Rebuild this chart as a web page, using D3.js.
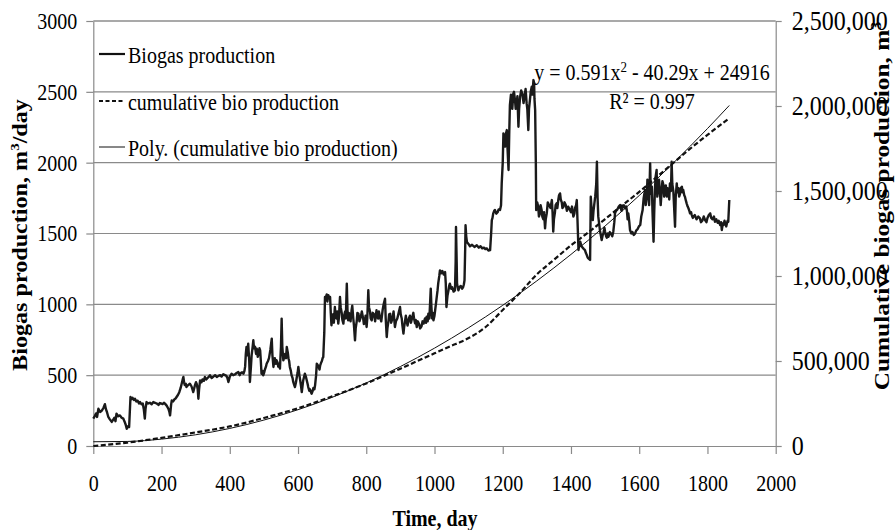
<!DOCTYPE html>
<html>
<head>
<meta charset="utf-8">
<script src="https://cdn.jsdelivr.net/npm/d3@7"></script>
<style>
  html, body { margin: 0; padding: 0; background: #fff; }
  svg { display: block; }
</style>
</head>
<body>
<div id="chart"></div>
<script>
// daily biogas production, [day, m3/day]
const biogasDaily = [
  [0,193],[4,210],[8,230],[11,205],[15,263],[20,240],[25,250],[30,270],[34,295],[37,260],[40,240],[44,205],[48,190],
  [54,170],[58,185],[62,200],[65,175],[68,228],[73,210],[78,216],[83,200],[88,193],[92,170],[95,150],[98,122],[102,140],
  [105,134],[109,346],[112,330],[115,340],[119,325],[122,334],[126,315],[130,320],[134,300],[137,310],[141,295],[145,300],
  [148,260],[151,193],[153,260],[156,310],[161,300],[166,305],[171,295],[176,310],[181,305],[186,300],[191,290],[195,303],
  [199,300],[203,296],[207,305],[210,299],[215,285],[220,263],[223,240],[225,216],[228,290],[230,322],[234,315],[238,330],
  [241,335],[244,346],[248,360],[252,380],[256,410],[259,440],[262,470],[264,487],[266,450],[268,430],[271,440],[273,416],
  [278,430],[283,440],[288,420],[293,381],[296,410],[298,430],[301,450],[303,440],[306,400],[308,334],[310,400],[313,463],
  [317,450],[320,470],[324,460],[327,487],[331,470],[335,480],[339,490],[342,499],[347,480],[352,490],[357,500],[362,487],
  [367,495],[372,500],[376,490],[381,506],[386,500],[390,495],[393,480],[396,452],[400,490],[405,510],[410,500],[415,505],
  [420,515],[425,522],[429,500],[432,515],[436,520],[440,510],[443,530],[445,560],[447,650],[449,699],[452,640],[454,722],
  [457,600],[459,452],[462,560],[464,640],[467,700],[469,746],[471,690],[474,700],[477,650],[479,687],[482,630],[484,650],
  [487,690],[489,675],[491,600],[493,510],[496,530],[498,499],[501,520],[503,540],[506,560],[508,581],[512,600],[515,620],
  [519,680],[523,758],[525,640],[528,558],[530,600],[532,620],[535,580],[537,605],[540,590],[542,560],[545,580],[547,546],
  [550,700],[552,899],[554,700],[557,605],[560,630],[562,650],[565,620],[567,699],[570,660],[572,620],[574,600],[576,558],
  [579,530],[581,500],[584,480],[586,452],[589,430],[591,416],[594,450],[596,480],[599,520],[601,558],[604,500],[606,470],
  [609,420],[611,381],[613,420],[615,460],[618,490],[620,510],[623,490],[625,470],[628,440],[630,416],[633,390],[635,400],
  [638,380],[640,369],[643,390],[645,410],[648,400],[650,428],[653,500],[655,581],[658,570],[660,560],[663,540],[665,569],
  [668,590],[670,600],[672,620],[674,628],[677,800],[679,1052],[681,1040],[684,1070],[686,1020],[689,1064],[691,1050],
  [694,1052],[696,940],[698,852],[700,900],[703,930],[705,870],[708,981],[710,920],[713,900],[715,950],[718,864],[720,910],
  [723,1052],[725,980],[728,940],[730,890],[733,864],[735,920],[738,950],[740,900],[743,1146],[745,960],[747,887],[749,940],
  [752,930],[754,880],[757,958],[759,990],[762,900],[764,850],[767,746],[769,830],[772,880],[774,940],[777,934],[780,880],
  [784,910],[787,950],[791,899],[793,860],[796,870],[798,920],[801,840],[803,900],[806,1099],[808,980],[811,950],[813,900],
  [816,887],[819,940],[823,930],[826,880],[830,958],[832,910],[835,900],[837,950],[840,911],[844,880],[848,960],[851,1000],
  [855,1040],[857,900],[860,769],[862,830],[865,880],[867,930],[870,934],[873,870],[877,900],[880,950],[884,840],[887,880],
  [891,900],[895,940],[899,981],[901,930],[904,900],[906,850],[909,793],[911,840],[913,870],[916,920],[918,887],[921,850],
  [925,900],[928,920],[931,870],[934,900],[938,940],[940,900],[943,866],[945,890],[948,840],[951,880],[955,860],[958,830],
  [962,845],[965,880],[968,864],[972,900],[975,870],[977,913],[980,880],[982,934],[985,900],[989,1111],[991,980],[993,900],
  [995,940],[997,887],[1000,920],[1002,960],[1004,1000],[1006,1040],[1009,1100],[1011,1150],[1014,1200],[1016,1240],
  [1020,1220],[1023,1235],[1027,1210],[1031,1228],[1033,1150],[1035,981],[1038,1060],[1041,1100],[1043,1130],[1045,1146],
  [1049,1110],[1052,1120],[1056,1090],[1060,1099],[1062,1300],[1063,1546],[1065,1300],[1066,1150],[1068,1120],[1070,1099],
  [1073,1120],[1077,1130],[1081,1110],[1084,1122],[1086,1140],[1088,1170],[1090,1400],[1091,1558],[1093,1480],[1095,1440],
  [1099,1428],[1104,1410],[1110,1420],[1117,1405],[1124,1417],[1130,1400],[1135,1410],[1140,1395],[1145,1400],[1149,1390],
  [1153,1395],[1158,1380],[1163,1383],[1166,1500],[1168,1595],[1170,1610],[1172,1640],[1175,1660],[1177,1666],[1181,1640],
  [1185,1650],[1188,1670],[1192,1666],[1195,1700],[1197,1854],[1200,2000],[1202,2207],[1204,2150],[1207,2113],[1209,2200],
  [1212,2230],[1214,2100],[1217,1948],[1219,2200],[1221,2407],[1224,2480],[1226,2450],[1228,2380],[1231,2489],[1233,2500],
  [1236,2440],[1238,2380],[1241,2419],[1243,2470],[1246,2254],[1248,2380],[1251,2466],[1254,2510],[1258,2480],[1261,2420],
  [1265,2489],[1267,2520],[1270,2420],[1272,2380],[1275,2230],[1277,2380],[1280,2450],[1282,2500],[1285,2536],[1287,2480],
  [1290,2583],[1292,2560],[1293,2450],[1295,2371],[1297,2000],[1298,1666],[1301,1720],[1304,1689],[1306,1620],[1309,1640],
  [1311,1700],[1314,1666],[1316,1620],[1319,1600],[1321,1650],[1324,1536],[1326,1600],[1329,1642],[1332,1720],[1336,1700],
  [1340,1680],[1344,1736],[1346,1650],[1348,1513],[1350,1600],[1353,1650],[1355,1700],[1358,1713],[1360,1680],[1363,1740],
  [1365,1770],[1368,1783],[1370,1740],[1373,1720],[1375,1680],[1378,1689],[1381,1720],[1385,1700],[1388,1660],[1392,1689],
  [1396,1670],[1400,1650],[1403,1690],[1407,1619],[1410,1640],[1412,1680],[1415,1700],[1417,1736],[1419,1600],[1422,1383],
  [1424,1420],[1427,1442],[1431,1410],[1434,1400],[1438,1390],[1441,1383],[1444,1360],[1446,1350],[1449,1330],[1451,1324],
  [1454,1318],[1456,1313],[1458,1760],[1461,1650],[1464,1595],[1466,1660],[1468,1700],[1471,1760],[1474,1850],[1476,2007],
  [1478,1750],[1480,1619],[1483,1560],[1485,1520],[1488,1480],[1490,1454],[1493,1490],[1495,1500],[1498,1540],[1500,1513],
  [1503,1480],[1505,1470],[1508,1500],[1510,1477],[1514,1510],[1517,1500],[1521,1480],[1524,1513],[1527,1580],[1529,1642],
  [1532,1660],[1536,1670],[1540,1690],[1544,1701],[1548,1660],[1552,1690],[1555,1700],[1559,1678],[1562,1690],[1564,1660],
  [1566,1600],[1568,1642],[1571,1580],[1573,1525],[1577,1500],[1580,1510],[1584,1490],[1588,1501],[1591,1520],[1595,1530],
  [1599,1550],[1603,1560],[1606,1620],[1610,1666],[1613,1750],[1617,1807],[1619,1700],[1622,1750],[1624,1880],[1627,1850],
  [1629,1700],[1632,1995],[1634,1780],[1637,1830],[1639,1650],[1642,1442],[1644,1650],[1646,1807],[1648,1900],[1651,1948],
  [1653,1760],[1656,1820],[1658,1880],[1661,1783],[1663,1700],[1666,1810],[1668,1870],[1671,1842],[1673,1760],[1676,1790],
  [1678,1840],[1681,1760],[1683,1820],[1686,1800],[1688,1740],[1690,1854],[1693,1800],[1695,2007],[1697,1850],[1700,1800],
  [1702,1700],[1705,1548],[1707,1760],[1710,1854],[1712,1790],[1715,1820],[1717,1760],[1720,1783],[1722,1820],[1725,1830],
  [1727,1790],[1729,1807],[1732,1770],[1734,1760],[1737,1730],[1739,1713],[1742,1690],[1744,1680],[1747,1660],[1749,1642],
  [1752,1650],[1754,1630],[1757,1610],[1759,1619],[1763,1630],[1768,1600],[1773,1620],[1778,1607],[1781,1580],[1785,1590],
  [1789,1620],[1793,1595],[1797,1580],[1800,1610],[1804,1630],[1808,1642],[1811,1610],[1815,1600],[1819,1620],[1822,1583],
  [1826,1600],[1830,1575],[1833,1590],[1837,1560],[1840,1580],[1842,1525],[1845,1570],[1847,1560],[1850,1590],[1852,1572],
  [1855,1550],[1857,1570],[1859,1590],[1861,1583],[1864,1736]
];

// cumulative production, m3 (right axis)
const cumDays = [0, 100, 200, 300, 400, 500, 600, 700, 800, 900, 950, 1000, 1050, 1080, 1100, 1150, 1200, 1250, 1300, 1350, 1400, 1450, 1500, 1550, 1600, 1650, 1700, 1750, 1800, 1864];
const cumValues = [0, 20000, 48000, 80000, 115000, 165000, 222000, 292000, 368000, 455000, 500000, 545000, 590000, 615000, 635000, 700000, 800000, 900000, 1010000, 1095000, 1180000, 1255000, 1335000, 1415000, 1495000, 1580000, 1665000, 1750000, 1830000, 1928000];

// polynomial trendline values
const polyDays = [0, 100, 200, 300, 400, 500, 600, 700, 800, 900, 1000, 1100, 1200, 1300, 1400, 1500, 1600, 1700, 1800, 1864];
const polyValues = [24916, 26797, 40498, 66019, 103360, 152521, 213502, 286303, 370924, 467365, 575626, 695707, 827608, 971329, 1126870, 1294231, 1473412, 1664413, 1867234, 2003243];

const xTicks = [0, 200, 400, 600, 800, 1000, 1200, 1400, 1600, 1800, 2000];
const leftTicks = [0, 500, 1000, 1500, 2000, 2500, 3000];
const rightTicks = [0, 500000, 1000000, 1500000, 2000000, 2500000];

const width = 895;
const height = 530;
const plotLeft = 93.3, plotRight = 775.7, plotTop = 21, plotBottom = 446;
const serif = "'Liberation Serif', 'Times New Roman', serif";
const gridCol = "#8a8a8a";
const stretch = "scale(1,1.15)";

const svg = d3.select("#chart").append("svg").attr("width", width).attr("height", height);

const x = d3.scaleLinear().domain([0, 2000]).range([plotLeft, plotRight]);
const yL = d3.scaleLinear().domain([0, 3000]).range([plotBottom, plotTop]);
const yR = d3.scaleLinear().domain([0, 2500000]).range([plotBottom, plotTop]);

// grid lines
svg.append("g")
  .selectAll("line")
  .data(leftTicks.filter((d) => d > 0))
  .enter()
  .append("line")
  .attr("x1", x(0))
  .attr("x2", x(2000))
  .attr("y1", (d) => yL(d))
  .attr("y2", (d) => yL(d))
  .attr("stroke", (d) => (d === 3000 ? "#555" : gridCol))
  .attr("stroke-width", 1.2);

function styleAxis(g, size) {
  g.attr("font-family", serif).attr("font-size", size);
  g.select(".domain").attr("stroke", gridCol).attr("stroke-width", 1.2);
  g.selectAll(".tick line").attr("stroke", gridCol).attr("stroke-width", 1.2);
  g.selectAll(".tick text").attr("fill", "#000").attr("transform", stretch);
}

const xAxis = svg.append("g")
  .attr("transform", `translate(0,${plotBottom})`)
  .call(d3.axisBottom(x).tickValues(xTicks).tickSize(8).tickSizeOuter(0).tickFormat(d3.format("d")));
styleAxis(xAxis, 20);
xAxis.selectAll(".tick text").attr("y", 25);

const yAxisL = svg.append("g")
  .attr("transform", `translate(${plotLeft},0)`)
  .call(d3.axisLeft(yL).tickValues(leftTicks).tickSize(7).tickPadding(9).tickSizeOuter(0).tickFormat(d3.format("d")));
styleAxis(yAxisL, 20);

const yAxisR = svg.append("g")
  .attr("transform", `translate(${plotRight},0)`)
  .call(d3.axisRight(yR).tickValues(rightTicks).tickSize(6).tickPadding(10).tickSizeOuter(0).tickFormat(d3.format(",")));
styleAxis(yAxisR, 24);

// series
const prodLine = d3.line().x((d) => x(d[0])).y((d) => yL(d[1]));
svg.append("path")
  .datum(biogasDaily)
  .attr("d", prodLine)
  .attr("fill", "none")
  .attr("stroke", "#1a1a1a")
  .attr("stroke-width", 2.4)
  .attr("stroke-linejoin", "round");

const cumLine = d3.line().x((d, i) => x(cumDays[i])).y((d) => yR(d)).curve(d3.curveMonotoneX);
svg.append("path")
  .datum(cumValues)
  .attr("d", cumLine)
  .attr("fill", "none")
  .attr("stroke", "#111")
  .attr("stroke-width", 2.2)
  .attr("stroke-dasharray", "5,2.5");

const polyLine = d3.line().x((d, i) => x(polyDays[i])).y((d) => yR(d)).curve(d3.curveMonotoneX);
svg.append("path")
  .datum(polyValues)
  .attr("d", polyLine)
  .attr("fill", "none")
  .attr("stroke", "#111")
  .attr("stroke-width", 1);

// helper for horizontally written, slightly tall text
function label(px, py, anchor, size, weight) {
  return svg.append("g")
    .attr("transform", `translate(${px},${py}) ${stretch}`)
    .append("text")
    .attr("text-anchor", anchor)
    .attr("font-family", serif)
    .attr("font-size", size)
    .attr("font-weight", weight || "normal")
    .attr("fill", "#000");
}

// legend
const legendItems = [
  { name: "Biogas production", y: 54, ty: 63, width: 2.2, dash: null },
  { name: "cumulative bio production", y: 101, ty: 110, width: 2.2, dash: "4,2.5" },
  { name: "Poly. (cumulative bio production)", y: 147, ty: 156, width: 1, dash: null }
];
legendItems.forEach((d) => {
  svg.append("line")
    .attr("x1", 99).attr("x2", 125)
    .attr("y1", d.y).attr("y2", d.y)
    .attr("stroke", "#111")
    .attr("stroke-width", d.width)
    .attr("stroke-dasharray", d.dash);
  label(128, d.ty, "start", 20).text(d.name);
});

// trendline equation
const eq = label(652, 80, "middle", 20);
eq.append("tspan").text("y = 0.591x");
eq.append("tspan").attr("font-size", 13).attr("dy", -7).text("2");
eq.append("tspan").attr("dy", 7).text(" - 40.29x + 24916");
label(652, 109, "middle", 20).text("R² = 0.997");

// axis titles
label(435, 526, "middle", 20, "bold").text("Time, day");

const lt = svg.append("text")
  .attr("transform", "translate(27,235) rotate(-90) scale(1.15,1)")
  .attr("text-anchor", "middle")
  .attr("font-family", serif)
  .attr("font-size", 21)
  .attr("font-weight", "bold");
lt.append("tspan").text("Biogas production, m");
lt.append("tspan").attr("font-size", 13).attr("dy", -8).text("3");
lt.append("tspan").attr("dy", 8).text("/day");

const rt = svg.append("text")
  .attr("transform", "translate(889,206) rotate(-90) scale(1.15,1)")
  .attr("text-anchor", "middle")
  .attr("font-family", serif)
  .attr("font-size", 22)
  .attr("font-weight", "bold");
rt.append("tspan").text("Cumulative biogas production, m");
rt.append("tspan").attr("font-size", 14).attr("dy", -8).text("3");
</script>
</body>
</html>
